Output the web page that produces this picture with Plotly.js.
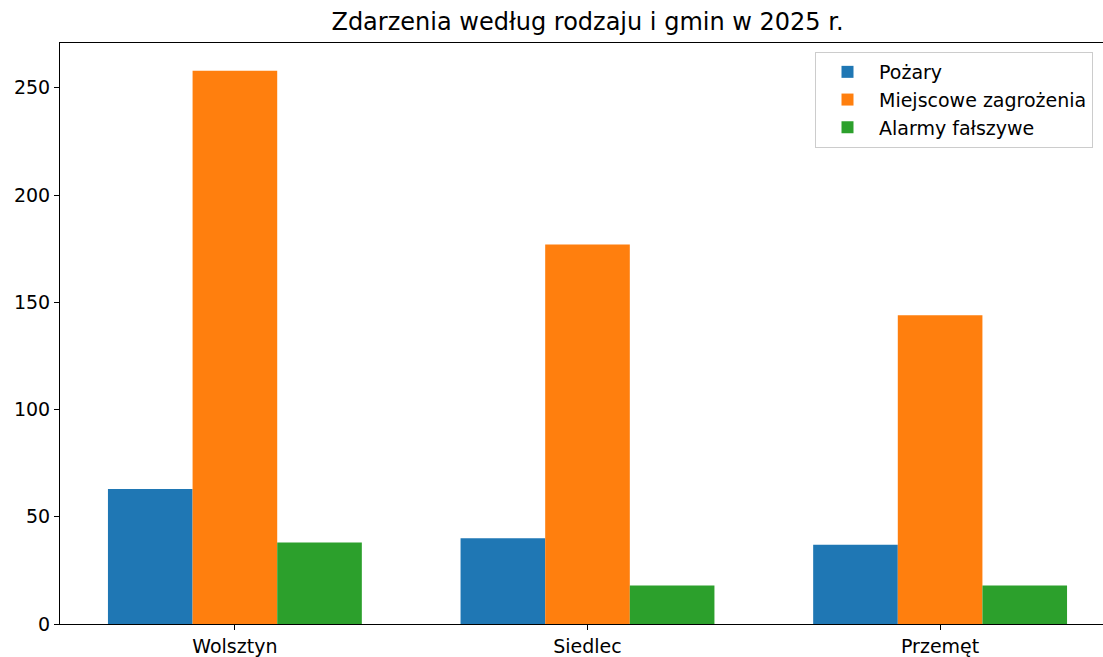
<!DOCTYPE html>
<html>
<head>
<meta charset="utf-8">
<script src="https://cdn.plot.ly/plotly-3.0.1.min.js"></script>
<style>
html, body { margin: 0; padding: 0; overflow: hidden; background: #fff; }
#chart { width: 1118px; height: 657px; }
</style>
</head>
<body>
<div id="chart"></div>
<script>
const categories = ["Wolsztyn", "Siedlec", "Przemęt"];
const seriesNames = ["Pożary", "Miejscowe zagrożenia", "Alarmy fałszywe"];
const pozary = [63, 40, 37];
const miejscowe = [258, 177, 144];
const alarmy = [38, 18, 18];
const colors = ["#1f77b4", "#ff7f0e", "#2ca02c"];
const yTicks = [0, 50, 100, 150, 200, 250];

const values = [pozary, miejscowe, alarmy];
const traces = values.map((v, i) => ({
  type: "bar",
  name: seriesNames[i],
  x: categories,
  y: v,
  marker: { color: colors[i], line: { width: 0 } },
  legendgroup: "g" + i,
  hoverinfo: "x+y+name"
}));

const layout = {
  width: 1118,
  height: 657,
  margin: { l: 60, r: 3, t: 43, b: 33, pad: 0 },
  paper_bgcolor: "#fff",
  plot_bgcolor: "#fff",
  font: { family: "DejaVu Sans, sans-serif", size: 19, color: "#000" },
  title: {
    text: "Zdarzenia według rodzaju i gmin w 2025 r.",
    font: { size: 24, color: "#000" },
    x: 0.5, xref: "paper", xanchor: "center",
    y: 1 - 22 / 657, yanchor: "middle"
  },
  barmode: "group",
  bargap: 0.28,
  bargroupgap: 0,
  showlegend: true,
  legend: {
    x: (815 - 60) / 1055, xanchor: "left",
    y: 1 - 9 / 581, yanchor: "top",
    bgcolor: "rgba(255,255,255,0.8)",
    bordercolor: "#cccccc",
    borderwidth: 1,
    font: { size: 19, color: "#000" },
    tracegroupgap: 4,
    itemwidth: 53,
    entrywidth: 300,
    entrywidthmode: "pixels",
    traceorder: "normal"
  },
  xaxis: {
    type: "category",
    range: [-0.496, 2.496],
    showline: true, linecolor: "#000", linewidth: 1.1, mirror: true,
    ticks: "outside", ticklen: 5, tickwidth: 1.1, tickcolor: "#000",
    showgrid: false, zeroline: false,
    tickfont: { size: 19, color: "#000" }
  },
  yaxis: {
    range: [0, 270.9],
    tickvals: yTicks,
    ticktext: yTicks.map(String),
    showline: true, linecolor: "#000", linewidth: 1.1, mirror: true,
    ticks: "outside", ticklen: 5, tickwidth: 1.1, tickcolor: "#000",
    showgrid: false, zeroline: false,
    tickfont: { size: 19, color: "#000" }
  }
};

Plotly.newPlot("chart", traces, layout, { displayModeBar: false });
</script>
</body>
</html>
